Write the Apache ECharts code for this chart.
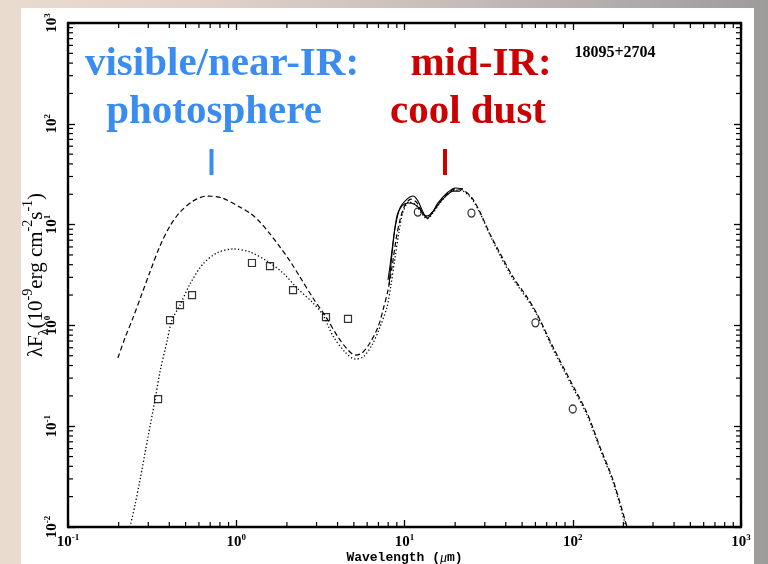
<!DOCTYPE html>
<html>
<head>
<meta charset="utf-8">
<script src="https://cdn.jsdelivr.net/npm/echarts@6/dist/echarts.min.js"></script>
<style>
  html, body { margin: 0; padding: 0; }
  body {
    width: 768px; height: 564px; overflow: hidden; position: relative;
    background: linear-gradient(90deg, #eadbcf 0%, #e2d2ca 25%, #cbbfbb 55%, #b2adac 80%, #9e9b9b 100%);
  }
  #sheet { position: absolute; left: 21px; top: 8px; width: 733px; height: 556px; background: #fff; }
  #chart { position: absolute; left: 0; top: 0; width: 768px; height: 564px; }
</style>
</head>
<body>
<div id="sheet"></div>
<div id="chart"></div>
<script>
// Spectral energy distribution of IRAS 18095+2704 (wavelength in micron, lambda*F_lambda in 1e-9 erg cm^-2 s^-1)

// Model 1 (dashed)
const waveDashed = [0.198, 0.218, 0.243, 0.272, 0.307, 0.352, 0.404, 0.463, 0.553, 0.670, 0.823, 1.053, 1.207, 1.384, 1.587, 1.820, 2.087, 2.392, 2.858, 3.415, 4.025, 4.615, 5.08, 5.59, 6.23, 6.96, 7.45, 7.98, 8.43, 8.90, 9.40, 10.07, 10.93, 11.87, 12.71, 13.61, 14.77, 16.26, 17.89, 19.96, 22.27, 25.18, 28.1, 32.2, 36.9, 44.2, 53.5, 61.3, 76.3, 96.3, 121.6, 145.2, 173.5, 210.1];
const fluxDashed = [0.475, 0.750, 1.18, 1.96, 3.39, 6.13, 9.69, 13.3, 17.1, 19.2, 18.4, 14.9, 13.0, 10.6, 8.07, 5.99, 4.35, 3.02, 1.87, 1.21, 0.767, 0.570, 0.508, 0.532, 0.669, 0.964, 1.42, 2.24, 3.80, 7.03, 11.1, 15.6, 17.9, 16.4, 13.3, 11.9, 13.6, 16.8, 20.1, 22.6, 22.0, 18.4, 13.3, 8.07, 5.23, 3.02, 1.91, 1.30, 0.611, 0.287, 0.135, 0.0622, 0.0293, 0.01];

// Model 2 (dotted)
const waveDotted = [0.2336, 0.2502, 0.2679, 0.2988, 0.329, 0.352, 0.388, 0.415, 0.463, 0.531, 0.634, 0.768, 0.956, 1.207, 1.523, 1.896, 2.296, 2.858, 3.279, 3.758, 4.43, 5.08, 5.67, 6.41, 7.15, 7.87, 8.31, 8.78, 9.27, 9.80, 10.63, 11.71, 12.71, 13.61, 14.77, 16.26, 17.89, 19.96, 22.27, 25.18, 28.1, 32.2, 36.9, 44.2, 53.5, 61.3, 76.3, 96.3, 121.6, 145.2, 173.5, 207.3];
const fluxDotted = [0.01, 0.01654, 0.0293, 0.0781, 0.182, 0.345, 0.700, 1.13, 1.59, 2.57, 4.07, 5.23, 5.73, 5.35, 4.35, 3.31, 2.35, 1.67, 1.27, 0.785, 0.545, 0.464, 0.486, 0.639, 0.964, 1.52, 2.52, 4.66, 8.45, 13.3, 16.8, 15.6, 12.7, 11.4, 13.0, 16.4, 19.7, 22.0, 21.5, 17.9, 13.0, 7.88, 4.99, 2.89, 1.83, 1.27, 0.583, 0.274, 0.129, 0.0594, 0.0280, 0.01];

// IRAS LRS spectra (solid)
const waveLrsA = [7.98, 8.20, 8.43, 8.78, 9.40, 10.35, 11.23, 12.03, 12.88, 13.61, 14.57, 15.82, 17.89, 19.96, 22.27];
const fluxLrsA = [2.82, 3.88, 5.60, 9.25, 14.6, 17.9, 19.2, 17.1, 13.3, 11.6, 13.0, 16.4, 20.6, 23.1, 22.6];
const waveLrsB = [8.09, 8.54, 9.02, 9.66, 10.49, 11.39, 12.36, 13.24, 14.18, 15.61, 17.41, 19.43, 21.38];
const fluxLrsB = [2.52, 6.28, 12.2, 15.3, 16.4, 16.0, 14.3, 12.2, 12.5, 15.3, 18.8, 21.5, 21.5];

// Optical / near-IR photometry (squares)
const wavePhot = [0.343, 0.404, 0.463, 0.546, 1.24, 1.587, 2.175, 3.415, 4.615];
const fluxPhot = [0.186, 1.13, 1.59, 2.00, 4.16, 3.88, 2.24, 1.21, 1.16];

// IRAS photometry (circles)
const waveIras = [12, 25, 60, 100];
const fluxIras = [13.3, 13.0, 1.06, 0.148];

// Axis ranges and minor tick positions
const xRange = [0.1, 1000];
const yRange = [0.01, 1000];
const xMinorTicks = [0.2, 0.3, 0.4, 0.5, 0.6, 0.7, 0.8, 0.9, 2, 3, 4, 5, 6, 7, 8, 9, 20, 30, 40, 50, 60, 70, 80, 90, 200, 300, 400, 500, 600, 700, 800, 900];
const yMinorTicks = [0.02, 0.03, 0.04, 0.05, 0.06, 0.07, 0.08, 0.09, 0.2, 0.3, 0.4, 0.5, 0.6, 0.7, 0.8, 0.9, 2, 3, 4, 5, 6, 7, 8, 9, 20, 30, 40, 50, 60, 70, 80, 90, 200, 300, 400, 500, 600, 700, 800, 900];

const zip = (xs, ys) => xs.map((x, i) => [x, ys[i]]);

const SERIF = 'Liberation Serif';
const tickFmt = v => {
  const e = Math.round(Math.log10(v));
  return '{b|10}{e|' + (e < 0 ? '-' + (-e) : e) + '}';
};
const labelRich = {
  b: { fontFamily: SERIF, fontSize: 15, fontWeight: 'bold', color: '#000', lineHeight: 18 },
  e: { fontFamily: SERIF, fontSize: 9, fontWeight: 'bold', color: '#000', lineHeight: 10, verticalAlign: 'top' }
};
const frameLine = { onZero: false, lineStyle: { color: '#000', width: 2.4 } };
const majorTick = { inside: true, length: 7, lineStyle: { color: '#000', width: 1.3 } };

function logAxis(range, position, withLabels, extra) {
  return Object.assign({
    type: 'log', logBase: 10, min: range[0], max: range[1], position: position,
    axisLine: frameLine, axisTick: majorTick, splitLine: { show: false }, minorTick: { show: false },
    nameMoveOverlap: false,
    axisLabel: withLabels
      ? { formatter: tickFmt, rich: labelRich, margin: 6, showMinLabel: true, showMaxLabel: true }
      : { show: false }
  }, extra || {});
}

function minorTickRenderer(dir) {
  return function (params, api) {
    const cs = params.coordSys;
    const len = 5;
    const st = { stroke: '#000', lineWidth: 1.2 };
    if (dir === 'x') {
      const px = api.coord([api.value(0), 1])[0];
      const yb = cs.y + cs.height, yt = cs.y;
      return { type: 'group', children: [
        { type: 'line', shape: { x1: px, y1: yb, x2: px, y2: yb - len }, style: st },
        { type: 'line', shape: { x1: px, y1: yt, x2: px, y2: yt + len }, style: st }
      ] };
    }
    const py = api.coord([1, api.value(1)])[1];
    const xl = cs.x, xr = cs.x + cs.width;
    return { type: 'group', children: [
      { type: 'line', shape: { x1: xl, y1: py, x2: xl + len, y2: py }, style: st },
      { type: 'line', shape: { x1: xr, y1: py, x2: xr - len, y2: py }, style: st }
    ] };
  };
}

const chart = echarts.init(document.getElementById('chart'), null, { renderer: 'canvas' });

const BLUE = '#3a8cf0';
const RED = '#cc0000';
const bigText = (text, x, y, color) => ({
  type: 'text', x: x, y: y, silent: true,
  style: { text: text, fill: color, font: 'bold 41px "Liberation Serif"', align: 'center', verticalAlign: 'middle' }
});

chart.setOption({
  animation: false,
  backgroundColor: 'transparent',
  grid: { left: 68, right: 27, top: 23, bottom: 37, outerBoundsMode: 'none' },
  xAxis: [
    logAxis(xRange, 'bottom', true, {
      name: '{t|Wavelength (}{m|μ}{t|m)}',
      nameLocation: 'middle', nameGap: 24,
      nameTextStyle: { rich: {
        t: { fontFamily: 'Liberation Mono', fontWeight: 'bold', fontSize: 13, color: '#000', lineHeight: 14 },
        m: { fontFamily: SERIF, fontStyle: 'italic', fontSize: 14, color: '#000', lineHeight: 14 }
      } }
    }),
    logAxis(xRange, 'top', false)
  ],
  yAxis: [
    logAxis(yRange, 'left', true, {
      axisLabel: { formatter: tickFmt, rich: labelRich, margin: 7, rotate: 90, showMinLabel: true, showMaxLabel: true },
      name: '{a|λF}{s|λ}{a|(10}{p|-9}{a|erg cm}{p|-2}{a|s}{p|-1}{a|)}',
      nameLocation: 'middle', nameRotate: 90, nameGap: 17,
      nameTextStyle: { rich: {
        a: { fontFamily: SERIF, fontSize: 21, color: '#000', lineHeight: 30 },
        s: { fontFamily: SERIF, fontSize: 14, color: '#000', lineHeight: 13, verticalAlign: 'bottom' },
        p: { fontFamily: SERIF, fontSize: 14, color: '#000', lineHeight: 13, verticalAlign: 'top' }
      } }
    }),
    logAxis(yRange, 'right', false)
  ],
  series: [
    {
      type: 'custom', name: 'x minor ticks', silent: true, xAxisIndex: 0, yAxisIndex: 0,
      renderItem: minorTickRenderer('x'), data: xMinorTicks.map(v => [v, 1])
    },
    {
      type: 'custom', name: 'y minor ticks', silent: true, xAxisIndex: 0, yAxisIndex: 0,
      renderItem: minorTickRenderer('y'), data: yMinorTicks.map(v => [1, v])
    },
    {
      type: 'line', name: 'model 1', data: zip(waveDashed, fluxDashed), showSymbol: false, smooth: 0.3,
      lineStyle: { color: '#000', width: 1.2, type: [5, 3] }
    },
    {
      type: 'line', name: 'model 2', data: zip(waveDotted, fluxDotted), showSymbol: false, smooth: 0.3,
      lineStyle: { color: '#000', width: 1.3, type: [1.3, 2.2] }
    },
    {
      type: 'line', name: 'LRS a', data: zip(waveLrsA, fluxLrsA), showSymbol: false, smooth: 0.3,
      lineStyle: { color: '#000', width: 1.1 }
    },
    {
      type: 'line', name: 'LRS b', data: zip(waveLrsB, fluxLrsB), showSymbol: false, smooth: 0.3,
      lineStyle: { color: '#000', width: 1.1 }
    },
    {
      type: 'scatter', name: 'photometry', data: zip(wavePhot, fluxPhot), symbol: 'rect', symbolSize: 7,
      itemStyle: { color: 'rgba(0,0,0,0)', borderColor: '#000', borderWidth: 1.2 }
    },
    {
      type: 'scatter', name: 'IRAS', data: zip(waveIras, fluxIras), symbol: 'circle', symbolSize: [7, 8],
      itemStyle: { color: 'rgba(0,0,0,0)', borderColor: '#000', borderWidth: 1.3 }
    }
  ],
  graphic: [
    bigText('visible/near-IR:', 222, 64, BLUE),
    bigText('photosphere', 214, 112, BLUE),
    bigText('mid-IR:', 481, 64, RED),
    bigText('cool dust', 468, 112, RED),
    { type: 'rect', silent: true, shape: { x: 209.5, y: 149, width: 4, height: 26 }, style: { fill: BLUE } },
    { type: 'rect', silent: true, shape: { x: 443, y: 149, width: 4, height: 26 }, style: { fill: RED } },
    {
      type: 'text', x: 615, y: 53, silent: true,
      style: { text: '18095+2704', fill: '#000', font: 'bold 16px "Liberation Serif"', align: 'center', verticalAlign: 'middle' }
    }
  ]
});
</script>
</body>
</html>
